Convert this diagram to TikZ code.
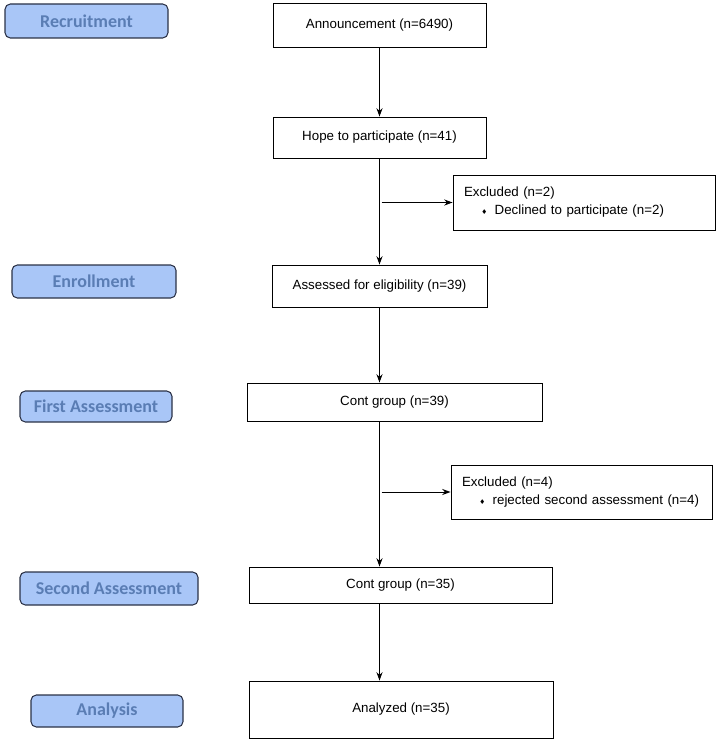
\documentclass[tikz,border=0pt]{standalone}
\usepackage{fontspec}
\setmainfont{Liberation Sans}
\newfontfamily\phasefont{Carlito}
\newfontfamily\symfont{DejaVu Sans}
\usetikzlibrary{positioning}
\usetikzlibrary {arrows.meta}
\definecolor{phasefill}{HTML}{A9C6F7}
\definecolor{phasetext}{HTML}{5A7DB4}
\definecolor{phaseline}{HTML}{2B3247}
\tikzset{phase/.style={rectangle,rounded corners=4pt,draw=phaseline,fill=phasefill,
line width=0.8pt,inner sep=0pt,text=phasetext,font=\phasefont\bfseries\fontsize{13.5}{15}\selectfont}}
\tikzset{flowbox/.style={rectangle,draw=black,fill=white,line width=0.7pt,
inner sep=0pt,font=\fontsize{10}{12}\selectfont}}
\tikzset{exclbox/.style={rectangle,draw=black,fill=white,line width=0.7pt,
inner sep=0pt,align=left,font=\fontsize{10}{13.5}\selectfont}}
\tikzset{flowarrow/.style={line width=0.7pt,-{Stealth[length=2.2mm,width=1.6mm]}}}
\newcommand{\exclitem}{\hspace*{1.3em}{\symfont\fontsize{5}{5}\selectfont ♦}\hspace{0.55em}}

\begin{document}
\begin{tikzpicture}[x=0.75pt,y=-0.75pt]
        \useasboundingbox (0,0) rectangle (719,742);

        % phase labels
        \node[phase,minimum width=122.25pt,minimum height=25.5pt] (recruit) at (86.5,21) {Recruitment};
        \node[phase,minimum width=123pt,minimum height=24.75pt] (enroll) at (94,281.5) {Enrollment};
        \node[phase,minimum width=114pt,minimum height=23.25pt] (first) at (96,406.5) {First Assessment};
        \node[phase,minimum width=133.5pt,minimum height=24.75pt] (second) at (109,588.5) {Second Assessment};
        \node[phase,minimum width=114pt,minimum height=24pt] (analysis) at (107,711) {Analysis};

        % flow boxes
        \node[flowbox,minimum width=159.75pt,minimum height=33pt] (announce) at (379.5,25) {Announcement (n=6490)};
        \node[flowbox,minimum width=159.75pt,minimum height=30.75pt] (hope) at (379.5,137.5) {Hope to participate (n=41)};
        \node[flowbox,minimum width=161.25pt,minimum height=31.5pt] (assess) at (379.5,286) {Assessed for eligibility (n=39)};
        \node[flowbox,minimum width=221.25pt,minimum height=28.5pt] (contA) at (394.5,402) {Cont group (n=39)};
        \node[flowbox,minimum width=227.25pt,minimum height=27pt] (contB) at (400.5,585) {Cont group (n=35)};
        \node[flowbox,minimum width=228pt,minimum height=42.75pt] (analyzed) at (401,709.5) {Analyzed (n=35)};

        % excluded boxes
        \node[exclbox,minimum width=196.5pt,minimum height=41.25pt,text width=180pt] (exclA) at (584,202.5)
            {Excluded (n=2)\\\exclitem Declined to participate (n=2)};
        \node[exclbox,minimum width=195.75pt,minimum height=40.5pt,text width=179.25pt] (exclB) at (581.5,492)
            {Excluded (n=4)\\\exclitem rejected second assessment (n=4)};

        % main trunk
        \draw[flowarrow] (announce.south) -- (hope.north);
        \draw[flowarrow] (hope.south) -- (assess.north);
        \draw[flowarrow] (assess.south) -- (assess.south |- contA.north);
        \draw[flowarrow] (assess.south |- contA.south) -- (assess.south |- contB.north);
        \draw[flowarrow] (assess.south |- contB.south) -- (assess.south |- analyzed.north);

        % side exits
        \coordinate (splitA) at ([xshift=1.5]hope.south |- exclA.west);
        \coordinate (splitB) at ([xshift=1.5]hope.south |- exclB.west);
        \draw[flowarrow] (splitA) -- (exclA.west);
        \draw[flowarrow] (splitB) -- (exclB.west);

\end{tikzpicture}
\end{document}
